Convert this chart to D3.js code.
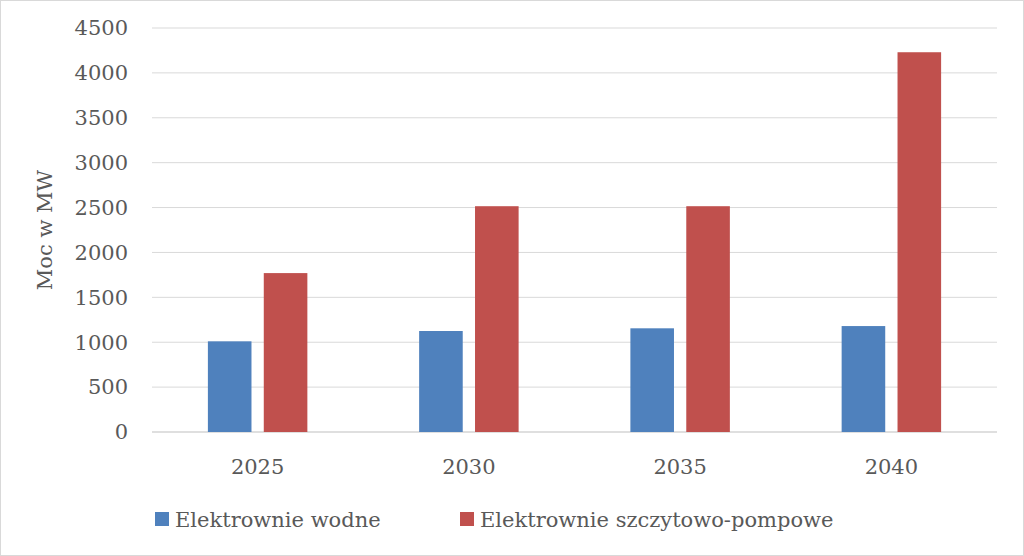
<!DOCTYPE html><html><head><meta charset="utf-8">
<script src="https://cdn.jsdelivr.net/npm/d3@7"></script>
<style>body{margin:0;background:#fff}svg{display:block}</style></head><body>
<script>
const categories=["2025","2030","2035","2040"];
const seriesNames=["Elektrownie wodne","Elektrownie szczytowo-pompowe"];
const wodne=[1010,1125,1155,1180];
const pompowe=[1770,2515,2515,4230];
const yTicks=[0,500,1000,1500,2000,2500,3000,3500,4000,4500];
const colors=["#4f81bd","#c0504d"];
const W=1024,H=556,L=152,R=997,T=28,B=432;
const svg=d3.select("body").append("svg").attr("width",W).attr("height",H);
svg.append("rect").attr("x",0.5).attr("y",0.5).attr("width",W-1).attr("height",H-1).attr("fill","#fff").attr("stroke","#d9d9d9");
const font="'DejaVu Serif',serif";
const y=d3.scaleLinear().domain([0,4500]).range([B,T]);
const x=d3.scaleBand().domain(categories).range([L,R]);
const x1=d3.scaleBand().domain([0,1]).range([0,x.bandwidth()]).paddingInner(0.22).paddingOuter(1.0);
svg.append("g").selectAll("line").data(yTicks).join("line").attr("x1",L).attr("x2",R).attr("y1",d=>y(d)).attr("y2",d=>y(d)).attr("stroke",d=>d===0?"#bfbfbf":"#d9d9d9");
svg.append("g").selectAll("text").data(yTicks).join("text").attr("x",L-24).attr("y",d=>y(d)).attr("dy","0.35em").attr("text-anchor","end").attr("font-family",font).attr("font-size",21).attr("fill","#595959").text(d=>d);
[wodne,pompowe].forEach((s,i)=>{
 svg.append("g").selectAll("rect").data(s).join("rect").attr("x",(d,j)=>x(categories[j])+x1(i)).attr("width",x1.bandwidth()).attr("y",d=>y(d)).attr("height",d=>B-y(d)).attr("fill",colors[i]);
});
svg.append("g").selectAll("text").data(categories).join("text").attr("x",d=>x(d)+x.bandwidth()/2).attr("y",474).attr("text-anchor","middle").attr("font-family",font).attr("font-size",21).attr("fill","#595959").text(d=>d);
svg.append("text").attr("transform","translate(52,230) rotate(-90)").attr("text-anchor","middle").attr("font-family",font).attr("font-size",21).attr("fill","#595959").text("Moc w MW");
const lx=[155,460];
seriesNames.forEach((n,i)=>{
 svg.append("rect").attr("x",lx[i]).attr("y",512).attr("width",14).attr("height",14).attr("fill",colors[i]);
 svg.append("text").attr("x",lx[i]+20).attr("y",520).attr("dy","0.35em").attr("font-family",font).attr("font-size",21).attr("fill","#595959").text(n);
});
</script></body></html>
